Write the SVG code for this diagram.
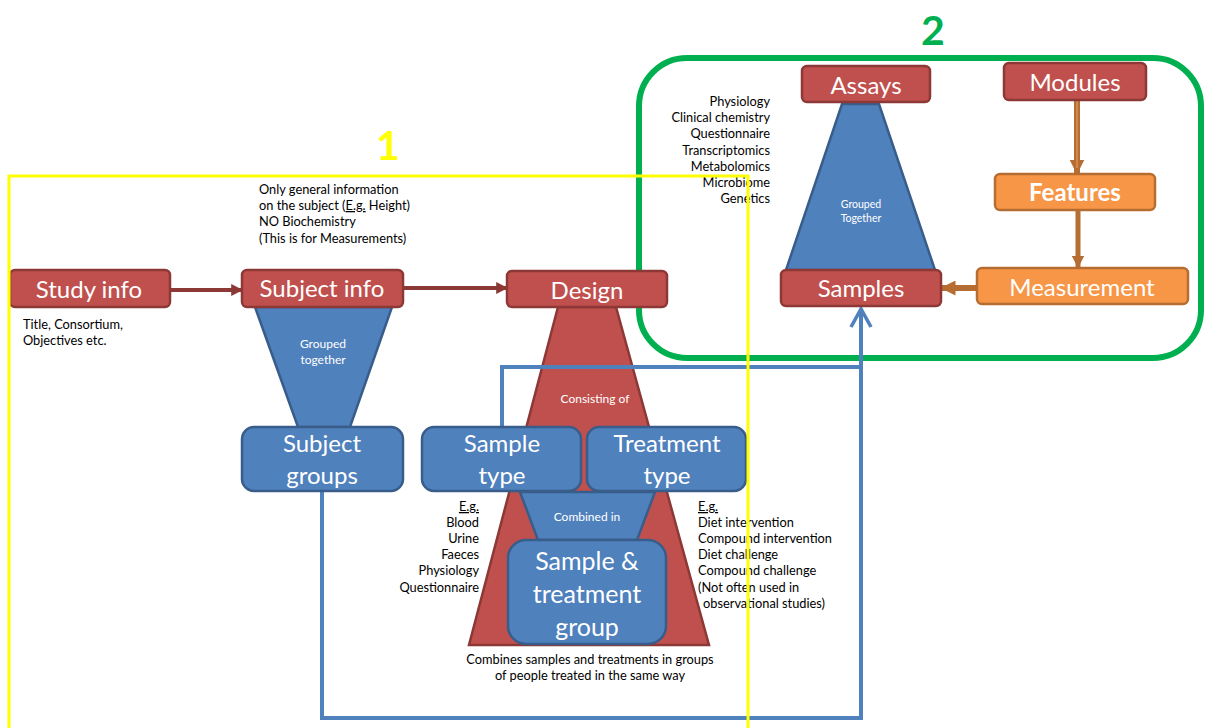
<svg xmlns="http://www.w3.org/2000/svg" width="1206" height="728" viewBox="0 0 1206 728">
<defs>
<style>
.red{fill:#C0504D;stroke:#8C3836;stroke-width:2.5}
.blue{fill:#4F81BD;stroke:#385D8A;stroke-width:2.5}
.orange{fill:#F79646;stroke:#B66D31;stroke-width:2.5}
.lbl{font-family:Lato,"Liberation Sans",sans-serif;fill:#fff;text-anchor:middle;font-size:24px}
.big{font-size:25px}
.sm{font-family:Lato,"Liberation Sans",sans-serif;fill:#000;font-size:12.8px}
.smw{font-family:Lato,"Liberation Sans",sans-serif;fill:#fff;text-anchor:middle;font-size:12px}
.r{text-anchor:end}
.c{text-anchor:middle}
.u{text-decoration:underline}
</style>
<marker id="ar" viewBox="0 0 10 10" refX="9" refY="5" markerWidth="3" markerHeight="3" orient="auto" markerUnits="strokeWidth">
<path d="M0,0 L10,5 L0,10 z" fill="#8C3836"/>
</marker>
<marker id="ao" viewBox="0 0 10 10" refX="9" refY="5" markerWidth="2.5" markerHeight="2.5" orient="auto" markerUnits="strokeWidth">
<path d="M0,0 L10,5 L0,10 z" fill="#B66D31"/>
</marker>
<marker id="ab" viewBox="0 0 12 12" refX="10" refY="6" markerWidth="6" markerHeight="6" orient="auto" markerUnits="strokeWidth">
<path d="M1,1 L10,6 L1,11" fill="none" stroke="#4F81BD" stroke-width="1.8"/>
</marker>
</defs>
<rect width="1206" height="728" fill="#fff"/>

<g id="region2">
<rect x="639" y="58" width="562" height="300" rx="48" fill="none" stroke="#00B050" stroke-width="6"/>
<text x="933" y="45" font-family="Lato,'Liberation Sans',sans-serif" font-weight="bold" font-size="41" fill="#00B050" text-anchor="middle">2</text>
</g>

<g id="design-tri"><polygon class="red" points="558,307 616,307 709,645 469,645"/>
<text class="smw" x="595" y="403">Consisting of</text></g>

<g id="subject-funnel"><polygon class="blue" points="255,307 392,307 350,427 298,427"/>
<text class="smw" x="323" y="348">Grouped</text><text class="smw" x="323" y="364">together</text></g>

<g id="assay-tri"><polygon class="blue" points="842,104 879,104 935,270 786,270"/>
<text class="smw" x="861" y="208" style="font-size:10.5px">Grouped</text><text class="smw" x="861" y="222" style="font-size:10.5px">Together</text></g>

<g id="connectors" fill="none">
<line x1="170" y1="290" x2="242" y2="290" stroke="#8C3836" stroke-width="4" marker-end="url(#ar)"/>
<line x1="403" y1="288" x2="507" y2="288" stroke="#8C3836" stroke-width="4" marker-end="url(#ar)"/>
<line x1="1077" y1="101" x2="1077" y2="173" stroke="#B66D31" stroke-width="6" marker-end="url(#ao)"/>
<line x1="1077" y1="101" x2="1077" y2="168" stroke="#D9925A" stroke-width="1.5"/>
<line x1="1078" y1="211" x2="1078" y2="267" stroke="#B66D31" stroke-width="5" marker-end="url(#ao)"/>
<line x1="976" y1="288" x2="942" y2="288" stroke="#B66D31" stroke-width="6" marker-end="url(#ao)"/>
<path d="M322,491 V718 H861 V309" stroke="#4F81BD" stroke-width="4" marker-end="url(#ab)"/>
<path d="M502,427 V367 H861" stroke="#4F81BD" stroke-width="4"/>
</g>

<g id="study-info"><rect class="red" x="10" y="270" width="160" height="37" rx="5"/><text class="lbl" x="89" y="298">Study info</text></g>
<g id="subject-info"><rect class="red" x="242" y="270" width="161" height="37" rx="5"/><text class="lbl" x="322" y="297">Subject info</text></g>
<g id="design"><rect class="red" x="507" y="271" width="160" height="36" rx="5"/><text class="lbl" x="587" y="299">Design</text></g>

<g id="subject-groups"><rect class="blue" x="242" y="427" width="161" height="64" rx="12"/><text class="lbl" x="322" y="452">Subject</text><text class="lbl" x="322" y="484">groups</text></g>
<g id="sample-type"><rect class="blue" x="422" y="427" width="159" height="64" rx="12"/><text class="lbl" x="502" y="452">Sample</text><text class="lbl" x="502" y="484">type</text></g>
<g id="treatment-type"><rect class="blue" x="587" y="427" width="159" height="64" rx="12"/><text class="lbl" x="667" y="452">Treatment</text><text class="lbl" x="667" y="484">type</text></g>

<g id="combined-funnel"><polygon class="blue" points="520,492 655,492 637,540 538,540"/>
<text class="smw" x="587" y="521">Combined in</text></g>

<g id="sample-treatment-group"><rect class="blue" x="508" y="540" width="158" height="104" rx="18"/>
<text class="lbl big" x="587" y="570">Sample &amp;</text><text class="lbl big" x="587" y="603">treatment</text><text class="lbl big" x="587" y="636">group</text></g>

<g id="assays"><rect class="red" x="802" y="66" width="128" height="36" rx="5"/><text class="lbl" x="866" y="94">Assays</text></g>
<g id="modules"><rect class="red" x="1004" y="63" width="142" height="37" rx="5"/><text class="lbl" x="1075" y="91">Modules</text></g>
<g id="features"><rect class="orange" x="995" y="174" width="160" height="36" rx="5"/><text class="lbl" x="1075" y="201" font-weight="bold">Features</text></g>
<g id="measurement"><rect class="orange" x="977" y="268" width="211" height="36" rx="5"/><text class="lbl" x="1082" y="296">Measurement</text></g>
<g id="samples"><rect class="red" x="781" y="270" width="160" height="36" rx="5"/><text class="lbl" x="861" y="297">Samples</text></g>

<g id="notes">
<text class="sm" x="259" y="194">Only general information</text>
<text class="sm" x="259" y="210">on the subject (<tspan class="u">E.g.</tspan> Height)</text>
<text class="sm" x="259" y="226">NO Biochemistry</text>
<text class="sm" x="259" y="243">(This is for Measurements)</text>
<text class="sm" x="23" y="329">Title,  Consortium,</text>
<text class="sm" x="23" y="345">Objectives  etc.</text>
<text class="sm r u" x="479" y="511">E.g.</text>
<text class="sm r" x="479" y="527">Blood</text>
<text class="sm r" x="479" y="543">Urine</text>
<text class="sm r" x="479" y="559">Faeces</text>
<text class="sm r" x="479" y="575">Physiology</text>
<text class="sm r" x="479" y="592">Questionnaire</text>
<text class="sm u" x="698" y="511">E.g.</text>
<text class="sm" x="698" y="527">Diet intervention</text>
<text class="sm" x="698" y="543">Compound intervention</text>
<text class="sm" x="698" y="559">Diet challenge</text>
<text class="sm" x="698" y="575">Compound challenge</text>
<text class="sm" x="698" y="592">(Not often used in</text>
<text class="sm" x="703" y="608">observational studies)</text>
<text class="sm c" x="590" y="664">Combines samples and treatments in groups</text>
<text class="sm c" x="590" y="680">of people treated in the same way</text>
<text class="sm r" x="770" y="106">Physiology</text>
<text class="sm r" x="770" y="122">Clinical chemistry</text>
<text class="sm r" x="770" y="138">Questionnaire</text>
<text class="sm r" x="770" y="155">Transcriptomics</text>
<text class="sm r" x="770" y="171">Metabolomics</text>
<text class="sm r" x="770" y="187">Microbiome</text>
<text class="sm r" x="770" y="203">Genetics</text>
</g>

<g id="region1">
<polyline points="9,740 9,176 748,176 748,740" fill="none" stroke="#FFFF00" stroke-width="3"/>
<text x="388" y="160" font-family="Lato,'Liberation Sans',sans-serif" font-weight="bold" font-size="41" fill="#FFFF00" text-anchor="middle">1</text>
</g>
</svg>
